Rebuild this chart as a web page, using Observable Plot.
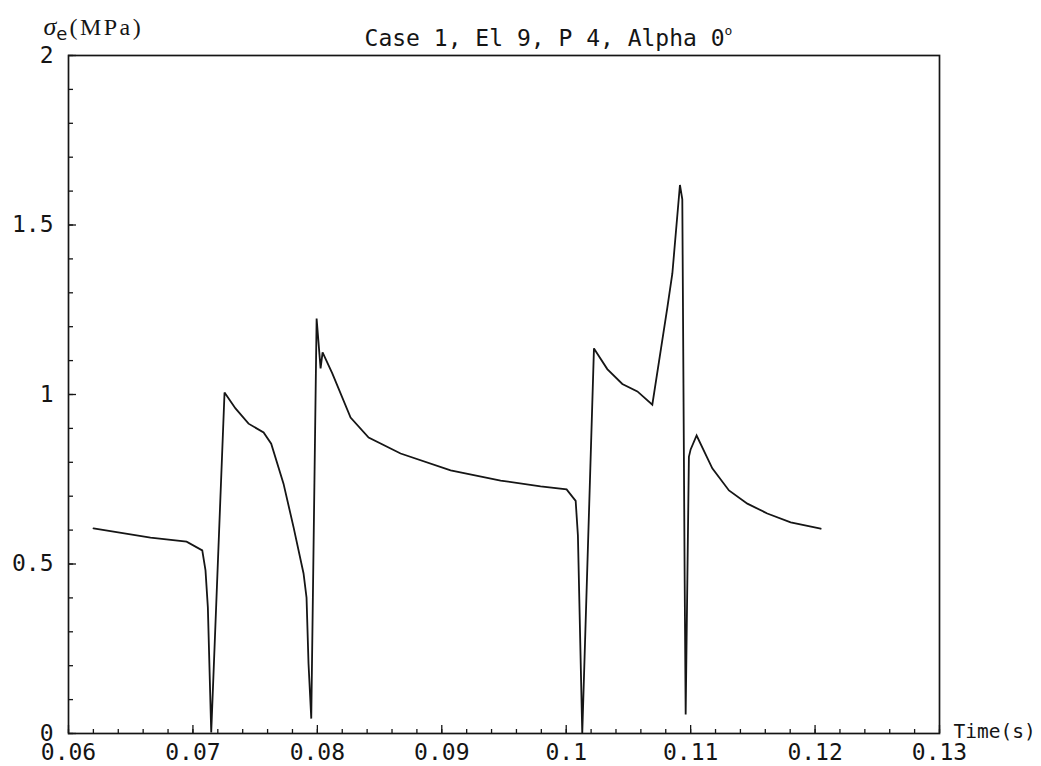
<!DOCTYPE html>
<html><head><meta charset="utf-8">
<script src="https://cdn.jsdelivr.net/npm/d3@7"></script>
<script src="https://cdn.jsdelivr.net/npm/@observablehq/plot@0.6"></script>
<style>
html,body{margin:0;padding:0;background:#fff;}
#chart svg{display:block;}
</style></head><body><div id="chart"></div>
<script>
// ---- data ----
const times = [0.06201,0.06659,0.06949,0.07075,0.07101,0.07120,0.07147,0.07254,0.07342,0.07447,0.07568,0.07629,0.07728,0.07809,0.07889,0.07913,0.07929,0.07951,0.07994,0.08026,0.08042,0.08120,0.08267,0.08412,0.08669,0.09071,0.09473,0.09794,0.10003,0.10076,0.10094,0.10129,0.10223,0.10330,0.10451,0.10572,0.10692,0.10813,0.10853,0.10914,0.10933,0.10952,0.10960,0.10986,0.11000,0.11048,0.11174,0.11308,0.11456,0.11616,0.11804,0.12045];
const stress = [0.605,0.578,0.566,0.540,0.481,0.372,0.003,1.006,0.959,0.914,0.888,0.855,0.737,0.608,0.472,0.401,0.206,0.044,1.224,1.077,1.124,1.062,0.932,0.873,0.826,0.776,0.746,0.729,0.720,0.686,0.584,0.0,1.136,1.075,1.031,1.009,0.970,1.257,1.357,1.618,1.576,0.451,0.056,0.816,0.838,0.879,0.782,0.717,0.678,0.649,0.623,0.604];
const xTickValues = [0.06,0.07,0.08,0.09,0.10,0.11,0.12,0.13];
const xTickLabels = ["0.06","0.07","0.08","0.09","0.1","0.11","0.12","0.13"];
const yTickValues = [0,0.5,1,1.5,2];
const yTickLabels = ["0","0.5","1","1.5","2"];
const titleMain = "Case 1, El 9, P 4, Alpha 0";
const titleSup = "o";
const xLabelText = "Time(s)";
const yLabelSymbol = "σ", yLabelSub = "e", yLabelUnit = "(MPa)";

// ---- build ----
const data = times.map((t, i) => ({t, s: stress[i]}));
const xMinor = d3.range(0.06, 0.13001, 0.002);
const yMinor = d3.range(0, 2.0001, 0.1);
const W = 1041, H = 766, mL = 68, mR = 102, mT = 55, mB = 33;
const fw = W - mL - mR, fh = H - mT - mB;
const mono = "'DejaVu Sans Mono', monospace";
const ink = "#151515";
const yLabelFull = yLabelSymbol + yLabelSub + yLabelUnit;
const titleFull = titleMain + titleSup;

const plot = Plot.plot({
  width: W, height: H,
  marginLeft: mL, marginRight: mR, marginTop: mT, marginBottom: mB,
  x: {domain: [0.06, 0.13]},
  y: {domain: [0, 2]},
  style: {background: "#fff", color: ink, fontFamily: mono},
  marks: [
    Plot.tickX(xMinor, {insetTop: fh - 4, stroke: ink, strokeWidth: 1.3}),
    Plot.tickX(xTickValues, {insetTop: fh - 8, stroke: ink, strokeWidth: 1.3}),
    Plot.tickY(yMinor, {insetRight: fw - 5, stroke: ink, strokeWidth: 1.3}),
    Plot.tickY(yTickValues, {insetRight: fw - 8, stroke: ink, strokeWidth: 1.3}),
    Plot.frame({stroke: ink, strokeWidth: 1.7}),
    Plot.axisX(xTickValues, {tickSize: 0, tickPadding: 10, label: null, fontSize: 23, fontFamily: mono,
      tickFormat: d => xTickLabels[xTickValues.indexOf(d)]}),
    Plot.axisY(yTickValues, {tickSize: 0, tickPadding: 15, label: null, fontSize: 23, fontFamily: mono,
      tickFormat: d => yTickLabels[yTickValues.indexOf(d)]}),
    Plot.line(data, {x: "t", y: "s", stroke: ink, strokeWidth: 1.8, strokeLinejoin: "miter", strokeMiterlimit: 3}),
    Plot.text([titleFull], {frameAnchor: "top-left", dx: 480, dy: -10, textAnchor: "middle", lineAnchor: "bottom",
      fontSize: 23, fontFamily: mono, fill: ink}),
    Plot.text([xLabelText], {frameAnchor: "bottom-right", dx: 14, dy: 4, textAnchor: "start", lineAnchor: "bottom",
      fontSize: 19.5, fontFamily: mono, fill: ink}),
    Plot.text([yLabelFull], {frameAnchor: "top-left", dx: -25, dy: -21, textAnchor: "start", lineAnchor: "bottom",
      fontSize: 24, fontFamily: "'Liberation Serif', serif", fill: ink})
  ]
});
document.getElementById("chart").appendChild(plot);

// rich formatting: italic sigma with subscript e; superscript degree "o" in title
d3.select(plot).selectAll("text").filter(function() { return this.textContent === yLabelFull; })
  .each(function() {
    const t = d3.select(this);
    t.text(null);
    t.append("tspan").attr("font-style", "italic").attr("font-size", 26).text(yLabelSymbol);
    t.append("tspan").attr("font-family", "'DejaVu Sans', sans-serif").attr("font-size", 18).attr("dy", 5).text(yLabelSub);
    t.append("tspan").attr("dy", -5).attr("dx", 2).attr("letter-spacing", 2.5).text(yLabelUnit);
  });
d3.select(plot).selectAll("text").filter(function() { return this.textContent === titleFull; })
  .each(function() {
    const t = d3.select(this);
    t.text(null);
    t.append("tspan").text(titleMain);
    t.append("tspan").attr("font-size", 13).attr("dy", -11).text(titleSup);
  });
</script>
</body></html>
